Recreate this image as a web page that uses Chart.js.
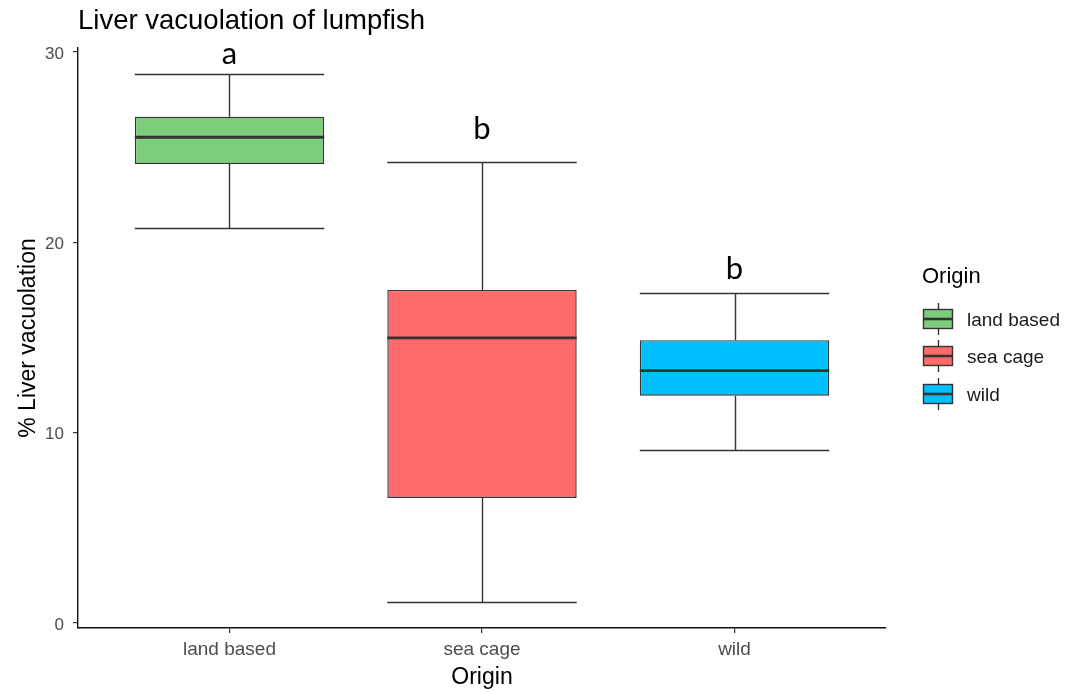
<!DOCTYPE html>
<html><head><meta charset="utf-8">
<script src="https://cdn.jsdelivr.net/npm/chart.js@4.4.1/dist/chart.umd.min.js"></script>
<style>html,body{margin:0;padding:0;background:#fff}#wrap{width:1091px;height:693px;position:relative}</style>
</head><body><div id="wrap"><canvas id="c" width="1091" height="693"></canvas></div>
<script>
// ---- data ----
const categories = ['land based', 'sea cage', 'wild'];
const whiskerMin = [20.77, 1.10, 9.09];
const q1Values = [24.12, 6.57, 11.94];
const medianValues = [25.52, 14.98, 13.26];
const q3Values = [26.60, 17.50, 14.86];
const whiskerMax = [28.85, 24.22, 17.34];
const letterLabels = ['a', 'b', 'b'];
const letterValues = [29.36, 25.42, 18.06];
const yTickValues = [0, 10, 20, 30];
const xTickValues = [1, 2, 3];
const fillColors = ['#7CCD7C', '#FF6A6A', '#00BFFF'];

const LINE = '#333333';
const FONT = "'Liberation Sans', Arial, sans-serif";

const boxData = categories.map((c, i) => ({ x: i + 1, y: [q1Values[i], q3Values[i]] }));

const crisp = (v) => Math.round(v) + 0.5;

const boxPlugin = {
  id: 'boxExtras',
  afterDatasetsDraw(chart) {
    const ctx = chart.ctx;
    const meta = chart.getDatasetMeta(0);
    const ys = chart.scales.y;
    ctx.save();
    ctx.strokeStyle = LINE;
    meta.data.forEach((bar, i) => {
      const half = bar.width / 2;
      const cx = crisp(bar.x);
      const pMax = crisp(ys.getPixelForValue(whiskerMax[i]));
      const pMin = crisp(ys.getPixelForValue(whiskerMin[i]));
      const pQ3 = ys.getPixelForValue(q3Values[i]);
      const pQ1 = ys.getPixelForValue(q1Values[i]);
      const pMed = ys.getPixelForValue(medianValues[i]);
      ctx.lineWidth = 1.4;
      ctx.beginPath();
      ctx.moveTo(cx, pQ3); ctx.lineTo(cx, pMax);
      ctx.moveTo(cx, pQ1); ctx.lineTo(cx, pMin);
      ctx.moveTo(bar.x - half, pMax); ctx.lineTo(bar.x + half, pMax);
      ctx.moveTo(bar.x - half, pMin); ctx.lineTo(bar.x + half, pMin);
      ctx.stroke();
      ctx.lineWidth = 2.8;
      ctx.beginPath();
      ctx.moveTo(bar.x - half, pMed); ctx.lineTo(bar.x + half, pMed);
      ctx.stroke();
      ctx.fillStyle = '#000';
      ctx.font = "31px Lato, 'Open Sans', sans-serif";
      ctx.textAlign = 'center';
      ctx.textBaseline = 'alphabetic';
      ctx.fillText(letterLabels[i], bar.x, ys.getPixelForValue(letterValues[i]));
    });
    ctx.restore();
  },
  afterDraw(chart) {
    const ctx = chart.ctx;
    const area = chart.chartArea;
    const mid = (area.top + area.bottom) / 2;
    const left = area.right + 36;
    ctx.save();
    ctx.fillStyle = '#000';
    ctx.font = '22px ' + FONT;
    ctx.textAlign = 'left';
    ctx.textBaseline = 'middle';
    ctx.fillText('Origin', left, mid - 61);
    categories.forEach((c, i) => {
      const cy = Math.round(mid - 19.5 + i * 37.5);
      const kx = left + 1.5, kw = 29, kh = 19;
      const wx = Math.round(kx + kw / 2) + 0.5;
      ctx.strokeStyle = LINE;
      ctx.lineWidth = 1.4;
      ctx.beginPath();
      ctx.moveTo(wx, cy - kh / 2 - 6.5); ctx.lineTo(wx, cy - kh / 2);
      ctx.moveTo(wx, cy + kh / 2); ctx.lineTo(wx, cy + kh / 2 + 6.5);
      ctx.stroke();
      ctx.fillStyle = fillColors[i];
      ctx.fillRect(kx, cy - kh / 2, kw, kh);
      ctx.strokeRect(kx, cy - kh / 2, kw, kh);
      ctx.lineWidth = 2.6;
      ctx.beginPath();
      ctx.moveTo(kx, cy); ctx.lineTo(kx + kw, cy);
      ctx.stroke();
      ctx.fillStyle = '#1a1a1a';
      ctx.font = '19px ' + FONT;
      ctx.fillText(c, left + 45, cy + 2);
    });
    ctx.restore();
  }
};

new Chart(document.getElementById('c'), {
  type: 'bar',
  data: {
    datasets: [{
      data: boxData,
      backgroundColor: fillColors,
      borderColor: LINE,
      borderWidth: 1.4,
      borderSkipped: false,
      barPercentage: 0.75,
      categoryPercentage: 1.0
    }]
  },
  options: {
    responsive: false,
    animation: false,
    layout: { padding: { top: 0, right: 205, bottom: 0, left: 0 } },
    plugins: {
      legend: { display: false },
      tooltip: { enabled: false },
      title: {
        display: true,
        text: 'Liver vacuolation of lumpfish',
        align: 'start',
        fullSize: false,
        color: '#000',
        font: { family: FONT, size: 27.5, weight: 'normal', lineHeight: 1.2 },
        padding: { top: 5, bottom: 10 }
      }
    },
    scales: {
      x: {
        type: 'linear',
        offset: false,
        min: 0.4,
        max: 3.6,
        afterBuildTicks: (s) => { s.ticks = xTickValues.map(v => ({ value: v })); },
        afterFit: (s) => { s.height = 65; },
        grid: { display: true, offset: false, drawOnChartArea: false, drawTicks: true, tickLength: 5, color: LINE, lineWidth: 1.2 },
        border: { display: true, color: '#111', width: 1.4 },
        ticks: {
          padding: 5,
          color: '#4D4D4D',
          font: { family: FONT, size: 19 },
          callback: (v) => categories[Math.round(v) - 1] || ''
        },
        title: {
          display: true, text: 'Origin', color: '#000',
          font: { family: FONT, size: 23 }, padding: { top: 0, bottom: 1.8 }
        }
      },
      y: {
        type: 'linear',
        min: -0.26,
        max: 30.21,
        afterBuildTicks: (s) => { s.ticks = yTickValues.map(v => ({ value: v })); },
        afterFit: (s) => { s.width = 78; },
        grid: { display: true, drawOnChartArea: false, drawTicks: true, tickLength: 5, color: LINE, lineWidth: 1.2 },
        border: { display: true, color: '#111', width: 1.4 },
        ticks: { padding: 9, labelOffset: 2, color: '#4D4D4D', font: { family: FONT, size: 17 } },
        title: {
          display: true, text: '% Liver vacuolation', color: '#000',
          font: { family: FONT, size: 23 }, padding: { top: 14.6, bottom: 0 }
        }
      }
    }
  },
  plugins: [boxPlugin]
});
</script></body></html>
